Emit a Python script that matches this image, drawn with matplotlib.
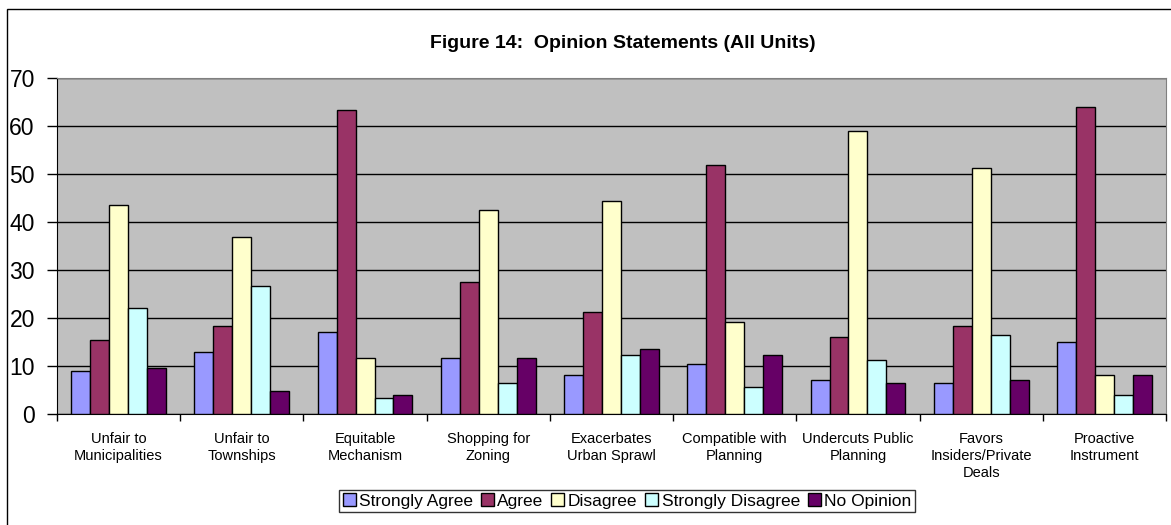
import numpy as np
import matplotlib
matplotlib.use("Agg")
import matplotlib.pyplot as plt
from matplotlib.patches import Rectangle

plt.rcParams['font.family'] = ['Liberation Sans', 'DejaVu Sans']

# data
categories = ["Unfair to\nMunicipalities", "Unfair to\nTownships", "Equitable\nMechanism",
              "Shopping for\nZoning", "Exacerbates\nUrban Sprawl", "Compatible with\nPlanning",
              "Undercuts Public\nPlanning", "Favors\nInsiders/Private\nDeals", "Proactive\nInstrument"]
strongly_agree = [8.9, 13.0, 17.0, 11.7, 8.2, 10.4, 7.0, 6.5, 15.1]
agree = [15.5, 18.4, 63.4, 27.5, 21.2, 51.9, 16.0, 18.4, 64.0]
disagree = [43.6, 36.8, 11.7, 42.4, 44.3, 19.2, 58.9, 51.2, 8.1]
strongly_disagree = [22.1, 26.7, 3.3, 6.4, 12.3, 5.6, 11.2, 16.5, 4.0]
no_opinion = [9.6, 4.7, 4.0, 11.7, 13.5, 12.2, 6.5, 7.0, 8.1]

series_names = ["Strongly Agree", "Agree", "Disagree", "Strongly Disagree", "No Opinion"]
series = [strongly_agree, agree, disagree, strongly_disagree, no_opinion]
colors = ["#9999FF", "#993366", "#FFFFCC", "#CCFFFF", "#660066"]

fig = plt.figure(figsize=(11.71, 5.25), dpi=100)
ax = fig.add_axes([57 / 1171, 111 / 525, 1109 / 1171, 336 / 525])
ax.set_facecolor("#C0C0C0")

n = len(categories)
x = np.arange(n)
bar_w = 1 / 1.3 / len(series)
for i, (name, vals, c) in enumerate(zip(series_names, series, colors)):
    offs = (i - 2) * bar_w
    ax.bar(x + offs, vals, width=bar_w, color=c, edgecolor="black", linewidth=1,
           label=name, zorder=3)

ax.set_xlim(-0.5, n - 0.5)
ax.set_ylim(0, 70)
ax.set_yticks(range(0, 71, 10))
ax.yaxis.grid(True, color="black", linewidth=1, zorder=1)
ax.set_axisbelow(True)
ax.tick_params(axis="y", direction="out", length=7, width=1, pad=9, labelsize=16.5)

# boundaries as major ticks, category names on minor ticks at centers
ax.set_xticks(np.arange(-0.5, n, 1.0))
ax.set_xticklabels([])
ax.set_xticks(x, minor=True)
ax.set_xticklabels(categories, minor=True, fontsize=10.5, linespacing=1.25)
ax.tick_params(axis="x", which="major", direction="out", length=5, width=1)
ax.tick_params(axis="x", which="minor", length=0, pad=13)

for side in ["top", "right"]:
    ax.spines[side].set_color("#808080")
for side in ["left", "bottom"]:
    ax.spines[side].set_color("black")

fig.text(623 / 1171, 1 - 47.5 / 525, "Figure 14:  Opinion Statements (All Units)",
         ha="center", va="baseline", fontsize=14, fontweight="bold")

leg = fig.legend(loc="center", bbox_to_anchor=(627 / 1171, 1 - 501 / 525), ncol=5,
                 fontsize=12.5, frameon=True, fancybox=False, handlelength=0.75,
                 handleheight=0.75, handletextpad=0.2, columnspacing=0.45,
                 borderpad=0.2, borderaxespad=0)
leg.get_frame().set_edgecolor("black")
leg.get_frame().set_linewidth(1)

# chart area border (left and top edges visible)
fig.patches.append(Rectangle((7 / 1171, -0.1), 1.2, 1 - 9 / 525 + 0.1, fill=False,
                             edgecolor="black", linewidth=1, transform=fig.transFigure))

fig.savefig("out.png", dpi=100)
